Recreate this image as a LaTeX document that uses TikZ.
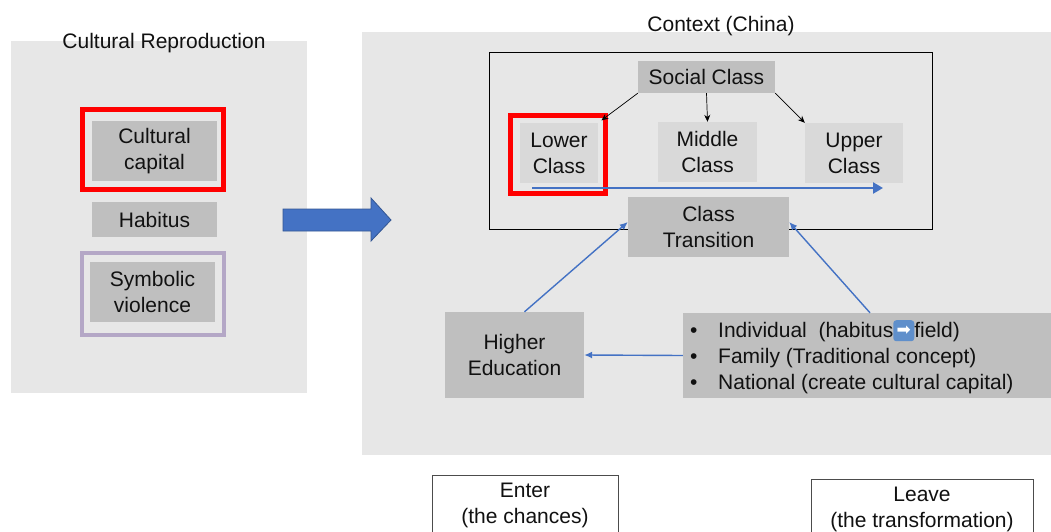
\documentclass[tikz,border=0pt]{standalone}
\usepackage{fontspec}
\setmainfont{Liberation Sans}
\newfontfamily\symfont{DejaVu Sans}
\usetikzlibrary{arrows.meta}
\definecolor{panel}{HTML}{E7E7E7}
\definecolor{boxd}{HTML}{BFBFBF}
\definecolor{boxl}{HTML}{D9D9D9}
\definecolor{blu}{HTML}{4472C4}
\definecolor{purp}{HTML}{B4A7C6}
\definecolor{emo}{HTML}{5F8FCB}
\definecolor{txt}{HTML}{111111}
\newcommand{\emojiarrow}{\tikz[baseline=-0.6ex]\node[fill=emo,rounded corners=3pt,inner sep=0pt,minimum size=21pt,text=white,font=\symfont\fontsize{17}{17}\selectfont]{➡};}
\begin{document}
\begin{tikzpicture}[x=1pt,y=-1pt,
  font=\fontsize{21}{26}\selectfont, text=txt,
  panelbox/.style={fill=panel,inner sep=0pt},
  darkbox/.style={fill=boxd,inner sep=0pt,align=center},
  lightbox/.style={fill=boxl,inner sep=0pt,align=center},
  frame/.style={draw,inner sep=0pt},
  blackarr/.style={draw=black,line width=0.7pt,-{Stealth[length=7pt,width=6pt]}},
  bluearr/.style={draw=blu,line width=1.4pt,-{Latex[length=8pt,width=7pt]}},
  plainbox/.style={draw=black!70,line width=0.8pt,fill=white,inner sep=0pt,align=center}
]
\useasboundingbox (0,0) rectangle (1051,532);
\fill[white] (0,0) rectangle (1051,532);

% left panel
\node[panelbox,minimum width=296pt,minimum height=352pt] (leftpanel) at (159,217) {};
\node (lefttitle) at (164,43) {Cultural Reproduction};
\node[darkbox,minimum width=125pt,minimum height=60pt] (cc) at (154.5,151) {Cultural\\capital};
\node[frame,draw=red,line width=5pt,minimum width=141pt,minimum height=80pt] (redA) at (153,149.5) {};
\node[darkbox,minimum width=125pt,minimum height=35pt] (hab) at (154.5,219.5) {Habitus};
\node[frame,draw=purp,line width=4pt,minimum width=142pt,minimum height=82pt] (purpA) at (153,294) {};
\node[darkbox,minimum width=125pt,minimum height=60pt] (sv) at (152.5,292) {Symbolic\\violence};

% right panel
\node[panelbox,minimum width=689pt,minimum height=423pt] (rightpanel) at (706.5,243.5) {};
\node (righttitle) at (721,26) {Context (China)};

% big arrow
\filldraw[fill=blu,draw=blu!75!black,line width=0.8pt]
  (283,209) -- (371,209) -- (371,198) -- (391,220) -- (371,241) -- (371,231) -- (283,231) -- cycle;

\node[frame,draw=black,line width=0.8pt,minimum width=443pt,minimum height=177pt] (inner) at (710.5,140.5) {};

\node[darkbox,minimum width=137pt,minimum height=32pt] (social) at (706.5,77) {Social Class};
\node[lightbox,minimum width=78pt,minimum height=60pt] (lower) at (559,153) {Lower\\Class};
\node[lightbox,minimum width=99pt,minimum height=60pt] (middle) at (707.5,152) {Middle\\Class};
\node[lightbox,minimum width=98pt,minimum height=60pt] (upper) at (854,153) {Upper\\Class};
\node[frame,draw=red,line width=5pt,minimum width=95pt,minimum height=78pt] (redB) at (558,154.5) {};

\draw[blackarr,shorten >=4pt] (social.south west) -- (lower.north east);
\draw[blackarr] (social.south) -- (middle.north);
\draw[blackarr] (social.south east) -- (upper.north west);

\coordinate (lowstart) at (532,188);
\coordinate (lowend) at (883,188);
\draw[draw=blu,line width=2.5pt,-{Triangle[length=10pt,width=11pt]}] (lowstart) -- (lowend);

\node[darkbox,minimum width=161pt,minimum height=60pt] (trans) at (708.5,227) {Class\\Transition};

\node[darkbox,minimum width=139pt,minimum height=86pt] (higher) at (514.5,355) {Higher\\Education};
\node[darkbox,minimum width=368pt,minimum height=85pt] (bullets) at (867,355.5) {};
\node[anchor=west,inner sep=0pt,align=left] (bultext) at (690,357)
  {\makebox[28pt][l]{•}Individual\ \ (habitus\emojiarrow field)\\
   \makebox[28pt][l]{•}Family (Traditional concept)\\
   \makebox[28pt][l]{•}National (create cultural capital)};

\draw[bluearr] ([xshift=10pt]higher.north) -- ([yshift=5pt]trans.west);
\draw[bluearr] ([xshift=3pt]bullets.north) -- ([yshift=5pt]trans.east);
\draw[bluearr] (bullets.west) -- (higher.east);

% bottom boxes
\node[plainbox,minimum width=186pt,minimum height=60pt] (enter) at (525,505) {Enter\\(the chances)};
\node[plainbox,minimum width=222pt,minimum height=60pt] (leave) at (922,509) {Leave\\(the transformation)};
\end{tikzpicture}
\end{document}
